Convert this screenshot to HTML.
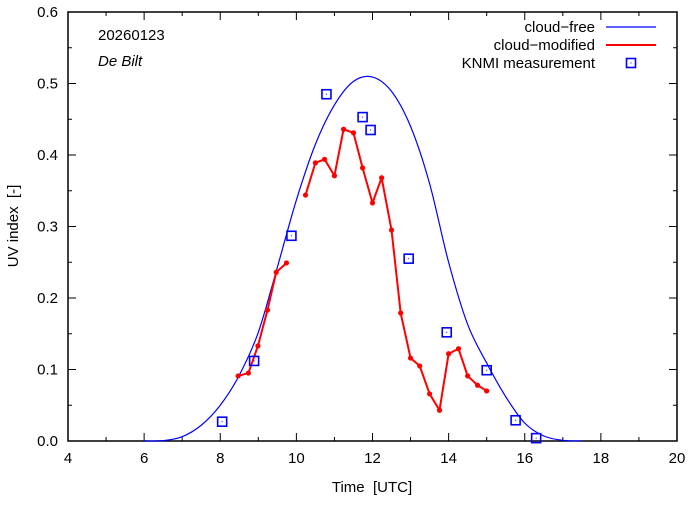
<!DOCTYPE html>
<html><head><meta charset="utf-8"><style>
body{margin:0;background:#fff}
svg text{font-family:"Liberation Sans",sans-serif;font-size:15px;fill:#000}
</style></head><body>
<svg id="chart" width="694" height="501" xmlns="http://www.w3.org/2000/svg">
<g id="axes"></g><g id="series"></g>
<text x="98" y="40">20260123</text>
<text x="98" y="66" font-style="italic">De Bilt</text>
<text x="372" y="492" text-anchor="middle">Time &#160;[UTC]</text>
<text transform="translate(18,226) rotate(-90)" text-anchor="middle">UV index &#160;[-]</text>
<g>
<text x="595" y="32" text-anchor="end">cloud−free</text>
<line x1="606" y1="27" x2="656" y2="27" stroke="#0000ff" stroke-width="1.2"/>
<text x="595" y="50" text-anchor="end">cloud−modified</text>
<line x1="606" y1="45" x2="656" y2="45" stroke="#ff0000" stroke-width="2"/>
<text x="595" y="68" text-anchor="end">KNMI measurement</text>
<rect x="626.5" y="58.5" width="9" height="9" fill="none" stroke="#0000ff" stroke-width="1.6"/>
<rect x="630.5" y="62.5" width="1" height="1" fill="#0000ff"/>
</g>
</svg>
<script>
const xTicks=[4,6,8,10,12,14,16,18,20];
const yTicks=[0,0.1,0.2,0.3,0.4,0.5,0.6];
const yTickLabels=["0.0","0.1","0.2","0.3","0.4","0.5","0.6"];
const clearT=[6.0,6.5,7.0,7.5,8.0,8.5,9.0,9.5,10.0,10.5,11.0,11.5,12.0,12.5,13.0,13.5,14.0,14.5,15.0,15.5,16.0,16.5,17.0,17.5];
const clearV=[0,0.0005,0.006,0.022,0.05,0.092,0.152,0.243,0.337,0.415,0.47,0.503,0.509,0.489,0.44,0.36,0.25,0.163,0.109,0.062,0.025,0.007,0.001,0];
const cloudT1=[8.47,8.74,8.99,9.24,9.47,9.74];
const cloudV1=[0.091,0.095,0.133,0.183,0.236,0.249];
const cloudT2=[10.24,10.5,10.74,11.0,11.24,11.5,11.74,12.0,12.24,12.5,12.74,13.0,13.24,13.5,13.76,14.0,14.26,14.5,14.76,15.0];
const cloudV2=[0.344,0.389,0.394,0.371,0.436,0.431,0.382,0.333,0.368,0.295,0.179,0.116,0.105,0.066,0.043,0.122,0.129,0.091,0.078,0.070];
const measT=[8.05,8.89,9.87,10.79,11.74,11.95,12.95,13.95,15.0,15.76,16.3];
const measV=[0.027,0.112,0.287,0.485,0.453,0.435,0.255,0.152,0.099,0.029,0.004];
const X0=68,X1=677,Y0=441,Y1=12;
const sx=t=>X0+(t-4)/16*(X1-X0);
const sy=v=>Y0-v/0.6*(Y0-Y1);
const NS="http://www.w3.org/2000/svg";
function mk(tag,attrs,parent){const e=document.createElementNS(NS,tag);for(const k in attrs)e.setAttribute(k,attrs[k]);parent.appendChild(e);return e;}
const ax=document.getElementById('axes'),se=document.getElementById('series');
const frame=mk('rect',{x:X0,y:Y1,width:X1-X0,height:Y0-Y1,fill:'none',stroke:'#000','stroke-width':1.5},ax);


for(let t=4;t<=20;t++){const x=sx(t);const L=t%2===0?8:4;
mk('line',{x1:x,y1:Y0,x2:x,y2:Y0-L,stroke:'#000'},ax);mk('line',{x1:x,y1:Y1,x2:x,y2:Y1+L,stroke:'#000'},ax);}
xTicks.forEach(t=>{const e=mk('text',{x:sx(t),y:Y0+22,'text-anchor':'middle'},ax);e.textContent=t;

});
for(let i=0;i<=12;i++){const y=sy(i*0.05);const L=i%2===0?8:4;
mk('line',{x1:X0,y1:y,x2:X0+L,y2:y,stroke:'#000'},ax);mk('line',{x1:X1,y1:y,x2:X1-L,y2:y,stroke:'#000'},ax);}
yTicks.forEach((v,i)=>{const e=mk('text',{x:X0-10,y:sy(v)+5,'text-anchor':'end'},ax);e.textContent=yTickLabels[i];

});
const P=clearT.map((t,i)=>[sx(t),sy(clearV[i])]);
let d='M'+P[0][0]+','+P[0][1];
for(let i=0;i<P.length-1;i++){const p0=P[Math.max(i-1,0)],p1=P[i],p2=P[i+1],p3=P[Math.min(i+2,P.length-1)];
d+=' C'+(p1[0]+(p2[0]-p0[0])/6)+','+(p1[1]+(p2[1]-p0[1])/6)+' '+(p2[0]-(p3[0]-p1[0])/6)+','+(p2[1]-(p3[1]-p1[1])/6)+' '+p2[0]+','+p2[1];}
const cf=mk('path',{d:d,fill:'none',stroke:'#0000ff','stroke-width':1.2},se);


[[cloudT1,cloudV1],[cloudT2,cloudV2]].forEach(([T,V])=>{
const pl=mk('polyline',{points:T.map((t,i)=>sx(t)+','+sy(V[i])).join(' '),fill:'none',stroke:'#ff0000','stroke-width':2},se);


T.forEach((t,i)=>{const c=mk('circle',{cx:sx(t),cy:sy(V[i]),r:2.6,fill:'#ff0000'},se);

});});
measT.forEach((t,i)=>{const x=sx(t),y=sy(measV[i]);
const r=mk('rect',{x:x-4.5,y:y-4.5,width:9,height:9,fill:'none',stroke:'#0000ff','stroke-width':1.6},se);


mk('rect',{x:x-0.5,y:y-0.5,width:1,height:1,fill:'#0000ff'},se);});
</script>
</body></html>
